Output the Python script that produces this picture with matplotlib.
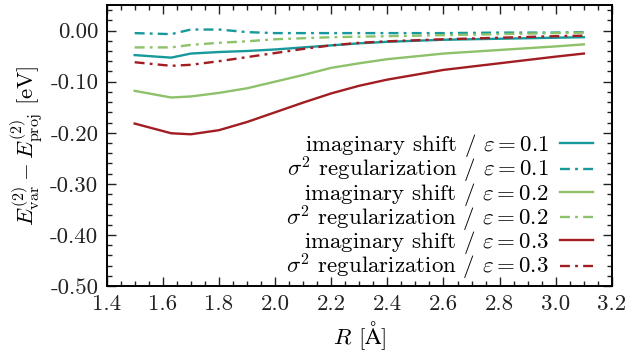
import matplotlib
matplotlib.use("Agg")
import matplotlib.pyplot as plt
from matplotlib.ticker import MultipleLocator, FixedLocator, FixedFormatter

plt.rcParams['font.family'] = ['cmr10', 'DejaVu Serif']
plt.rcParams['mathtext.fontset'] = 'cm'
plt.rcParams['axes.unicode_minus'] = False

R = [1.5, 1.63, 1.7, 1.8, 1.9, 2.0, 2.1, 2.2, 2.3, 2.4, 2.6, 2.8, 3.0, 3.1]

imag_01 = [-0.048, -0.053, -0.045, -0.042, -0.040, -0.037, -0.033, -0.029, -0.025, -0.022, -0.018, -0.016, -0.014, -0.013]
sig_01 = [-0.005, -0.007, 0.002, 0.002, -0.003, -0.005, -0.005, -0.005, -0.005, -0.005, -0.005, -0.004, -0.004, -0.003]
imag_02 = [-0.118, -0.131, -0.129, -0.122, -0.113, -0.100, -0.087, -0.073, -0.064, -0.056, -0.045, -0.038, -0.031, -0.027]
sig_02 = [-0.033, -0.033, -0.028, -0.024, -0.021, -0.017, -0.015, -0.013, -0.012, -0.011, -0.009, -0.007, -0.005, -0.004]
imag_03 = [-0.182, -0.201, -0.203, -0.195, -0.179, -0.160, -0.141, -0.123, -0.108, -0.096, -0.077, -0.064, -0.051, -0.045]
sig_03 = [-0.062, -0.069, -0.067, -0.060, -0.052, -0.044, -0.036, -0.029, -0.024, -0.021, -0.017, -0.014, -0.011, -0.010]

labels = [r"imaginary shift / $\varepsilon = 0.1$",
          r"$\sigma^2$ regularization / $\varepsilon = 0.1$",
          r"imaginary shift / $\varepsilon = 0.2$",
          r"$\sigma^2$ regularization / $\varepsilon = 0.2$",
          r"imaginary shift / $\varepsilon = 0.3$",
          r"$\sigma^2$ regularization / $\varepsilon = 0.3$"]

x_ticks = [1.4, 1.6, 1.8, 2.0, 2.2, 2.4, 2.6, 2.8, 3.0, 3.2]
x_ticklabels = ["1.4", "1.6", "1.8", "2.0", "2.2", "2.4", "2.6", "2.8", "3.0", "3.2"]
y_ticks = [-0.5, -0.4, -0.3, -0.2, -0.1, 0.0]
y_ticklabels = ["-0.50", "-0.40", "-0.30", "-0.20", "-0.10", "0.00"]

teal = "#17999b"
green = "#8dc16a"
red = "#a11d22"
dd = (0, (4.2, 2.2, 1.2, 2.2))

fs = 16.5

fig = plt.figure(figsize=(6.27, 3.58), dpi=100)
ax = fig.add_axes([0.170, 0.201, 0.806, 0.785])

lw = 1.7
series = [(imag_01, teal, '-'), (sig_01, teal, dd),
          (imag_02, green, '-'), (sig_02, green, dd),
          (imag_03, red, '-'), (sig_03, red, dd)]
for (vals, c, ls), lab in zip(series, labels):
    ax.plot(R, vals, color=c, lw=lw, linestyle=ls, label=lab)

ax.set_xlim(1.4, 3.2)
ax.set_ylim(-0.5, 0.05)
ax.xaxis.set_major_locator(FixedLocator(x_ticks))
ax.xaxis.set_major_formatter(FixedFormatter(x_ticklabels))
ax.xaxis.set_minor_locator(MultipleLocator(0.05))
ax.yaxis.set_major_locator(FixedLocator(y_ticks))
ax.yaxis.set_major_formatter(FixedFormatter(y_ticklabels))
ax.yaxis.set_minor_locator(MultipleLocator(0.02))
ax.tick_params(which='both', direction='in', top=True, right=True, width=1.0, labelsize=fs, colors='#222222')
ax.tick_params(which='major', length=6.5, pad=6)
ax.tick_params(which='minor', length=3.3)
for s in ax.spines.values():
    s.set_linewidth(1.4)

ax.set_xlabel(r"$R$ [$\mathrm{\AA}$]", fontsize=fs, labelpad=4)
ax.set_ylabel(r"$E^{(2)}_{\rm var} - E^{(2)}_{\rm proj}$ [eV]", fontsize=fs, labelpad=4)

leg = ax.legend(loc='lower right', bbox_to_anchor=(0.995, -0.044), frameon=False,
                markerfirst=False, fontsize=16.5, handlelength=1.45, handletextpad=0.5,
                labelspacing=-0.19, borderpad=0.2)

fig.savefig("out.png", dpi=100)
